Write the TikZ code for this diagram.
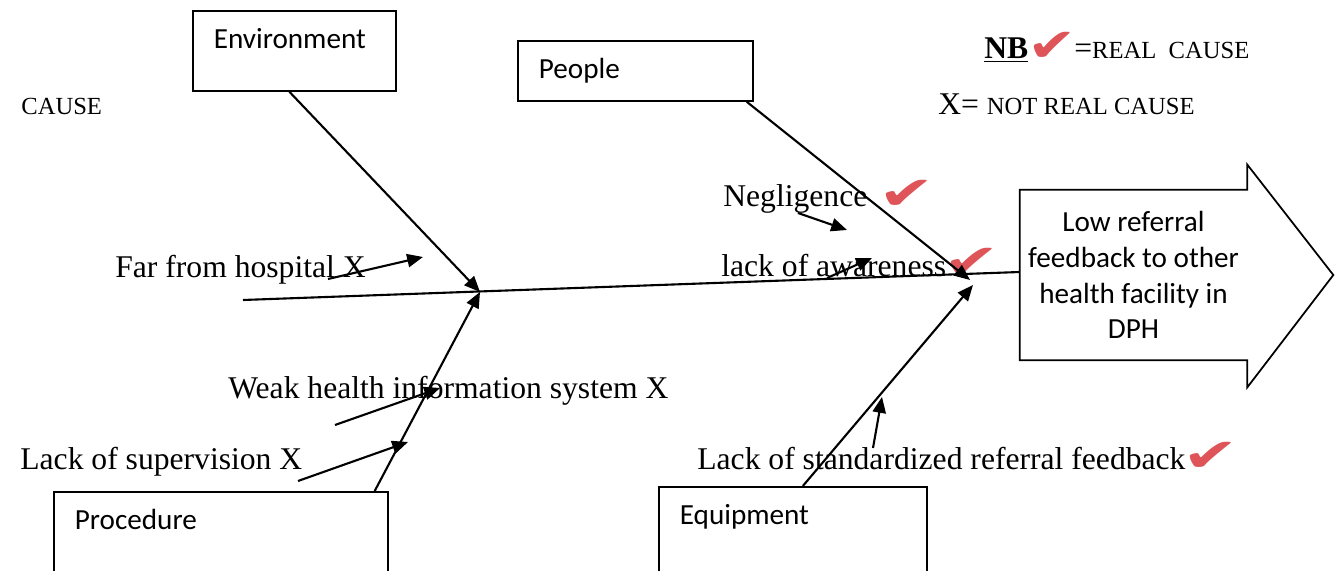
\documentclass[tikz,border=0pt]{standalone}
\usepackage{fontspec}
\setmainfont{Liberation Serif}
\newfontfamily\calibri{Carlito}
\newfontfamily\dejavu{DejaVu Sans}
\usetikzlibrary{arrows.meta}
\definecolor{tickred}{RGB}{222,84,88}

\begin{document}
\begin{tikzpicture}[x=0.02cm, y=-0.02cm,
  box/.style={draw, line width=1pt, anchor=north west, align=left, inner xsep=0.42cm, inner ysep=0pt, text height=0.75cm, font=\calibri\fontsize{16.6}{20}\selectfont},
  goal/.style={align=center, inner sep=0pt, minimum width=4.54cm, minimum height=3.4cm, font=\calibri\fontsize{16.6}{20.4}\selectfont},
  cause/.style={anchor=base west, inner sep=0pt, font=\fontsize{18}{20}\selectfont},
  caps/.style={anchor=base west, inner sep=0pt, font=\fontsize{14}{16}\selectfont},
  tick/.style={text=tickred, inner sep=0pt, font=\dejavu\fontsize{24}{24}\selectfont},
  spine/.style={line width=1.2pt},
  arrow/.style={line width=1.2pt, -{Triangle[length=9pt,width=7.5pt]}}
]
\useasboundingbox (0,0) rectangle (1340,571);
\clip (0,0) rectangle (1340,571);

% Category boxes
\node[box, text width=3.22cm, text depth=0.85cm] (env) at (192,10) {Environment};
\node[box, text width=3.86cm, text depth=0.45cm] (people) at (517,40) {People};
\node[box, text width=5.84cm, text depth=1.3cm] (proc) at (53,491) {Procedure};
\node[box, text width=4.52cm, text depth=1.3cm] (equip) at (658,486) {Equipment};

% Effect (head of the fish)
\node[goal] (goal) at (1133.5,275) {Low referral\\feedback to other\\health facility in\\DPH};
\draw[line width=1pt] (goal.north west) -- (goal.north east) -- ([shift={(0,-25)}]goal.north east)
  -- ([shift={(86,0)}]goal.east) -- ([shift={(0,27)}]goal.south east) -- (goal.south east)
  -- (goal.south west) -- cycle;

% Legend
\node[caps] (causehd) at (21,115) {CAUSE};
\node[cause] (nb) at (984,59) {\textbf{\underline{NB}}};
\node[tick] (nbtick) at (1052,47) {\scalebox{1.4}[1.1]{✔}};
\node[cause] (real) at (1074,59) {={\fontsize{14}{16}\selectfont REAL\ \ CAUSE}};
\node[cause] (notreal) at (938,115) {X= {\fontsize{14}{16}\selectfont NOT REAL CAUSE}};

% Causes
\node[cause] (far) at (115,277) {Far from hospital X};
\node[cause] (weak) at (228,398) {Weak health information system X};
\node[cause] (sup) at (20,469) {Lack of supervision X};
\node[cause] (negl) at (723,207) {Negligence};
\node[cause] (aware) at (721,276) {lack of awareness};
\node[cause] (std) at (697,469) {Lack of standardized referral feedback};

\node[tick] (negltick) at (907,195) {\scalebox{1.6}[1.1]{✔}};
\node[tick] (awaretick) at (972,263) {\scalebox{1.6}[1.1]{✔}};
\node[tick] (stdtick) at (1211,457) {\scalebox{1.6}[1.1]{✔}};

% Spine and joints
\coordinate (tail) at (243,300);
\coordinate (j1) at (480,292);
\coordinate (j2) at (970,280);
\coordinate (j3) at (973,285);
\draw[spine] (tail) -- ([shift={(0,-3)}]goal.west);

% Bones
\draw[arrow] ([shift={(-5,0)}]env.south) -- (j1);
\draw[arrow] ([shift={(-14,0)}]proc.north east) -- (j1);
\draw[arrow] ([shift={(-7,0)}]people.south east) -- (j2);
\draw[arrow] ([shift={(10,0)}]equip.north) -- (j3);

% Small arrows from causes
\coordinate (far-a) at (328,279);   \coordinate (far-b) at (423,257);
\coordinate (weak-a) at (335,425);  \coordinate (weak-b) at (440,388);
\coordinate (sup-a) at (298,481);   \coordinate (sup-b) at (408,442);
\coordinate (negl-a) at (798,213);  \coordinate (negl-b) at (847,230);
\coordinate (aware-a) at (827,278); \coordinate (aware-b) at (872,258);
\coordinate (std-a) at (873,448);   \coordinate (std-b) at (882,397);
\draw[arrow] (far-a) -- (far-b);
\draw[arrow] (weak-a) -- (weak-b);
\draw[arrow] (sup-a) -- (sup-b);
\draw[arrow] (negl-a) -- (negl-b);
\draw[arrow] (aware-a) -- (aware-b);
\draw[arrow] (std-a) -- (std-b);
\end{tikzpicture}
\end{document}
